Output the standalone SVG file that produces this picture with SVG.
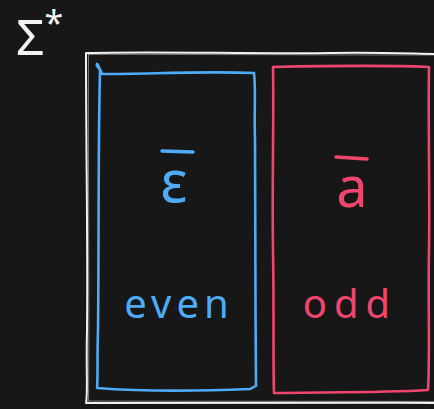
<svg xmlns="http://www.w3.org/2000/svg" width="434" height="409" viewBox="0 0 434 409">
<style>
.frame{fill:none;stroke:#f2f2f2;stroke-width:2;stroke-linecap:round;stroke-linejoin:round}
.frame2{fill:none;stroke:#f2f2f2;stroke-width:1;stroke-linecap:round;opacity:0.45}
.blue{fill:none;stroke:#4dabf7;stroke-width:2.6;stroke-linecap:round;stroke-linejoin:round}
.red{fill:none;stroke:#f0466e;stroke-width:2.6;stroke-linecap:round;stroke-linejoin:round}
.bar{stroke-width:3.4}
.t{font-family:"Noto Sans","DejaVu Sans",sans-serif}
</style>
<rect width="434" height="409" fill="#171717"/>
<g id="universe">
<path class="frame" d="M87 53 C150 51 250 54 330 53 C380 52 420 54 440 54 M86 53 C86 150 88 250 87 330 C86 370 88 395 86 403 C150 404 300 402 440 403"/>
<path class="frame2" d="M88 54.5 C160 54 260 55 440 55 M88.5 55 C88 160 89.5 280 88.5 401 C200 401.5 330 401 440 401.5"/>
<text class="t" x="16" y="55" font-size="50" fill="#f2f2f2">Σ<tspan font-size="34" dy="-20">*</tspan></text>
</g>
<g id="even">
<path class="blue" d="M97 64 C96 66 99 68 100 70 C98 150 99 250 98 330 C97 360 98 380 97 388 C150 392 200 391 250 389 C252 388 255 386 256 386 C255 300 256 200 255 140 C254 110 256 90 254 73 C200 71 150 74 102 74 C100 70 99 66 97 64 Z"/>
<line class="blue bar" x1="162" y1="151" x2="193" y2="152"/>
<text class="t" x="174" y="202" font-size="58" fill="#4dabf7" text-anchor="middle">ε</text>
<text class="t" x="179" y="318" font-size="40" fill="#4dabf7" text-anchor="middle" letter-spacing="5">even</text>
</g>
<g id="odd">
<path class="red" d="M273 67 C320 66 380 65 429 67 C428 120 430 200 429 250 C428 300 430 360 428 390 C380 393 320 392 274 393 C273 360 274 300 273 250 C272 180 274 120 273 67 Z"/>
<line class="red bar" x1="336" y1="157" x2="367" y2="159"/>
<text class="t" x="352" y="207" font-size="56" fill="#f0466e" text-anchor="middle">a</text>
<text class="t" x="350" y="318" font-size="40" fill="#f0466e" text-anchor="middle" letter-spacing="7">odd</text>
</g>
</svg>
